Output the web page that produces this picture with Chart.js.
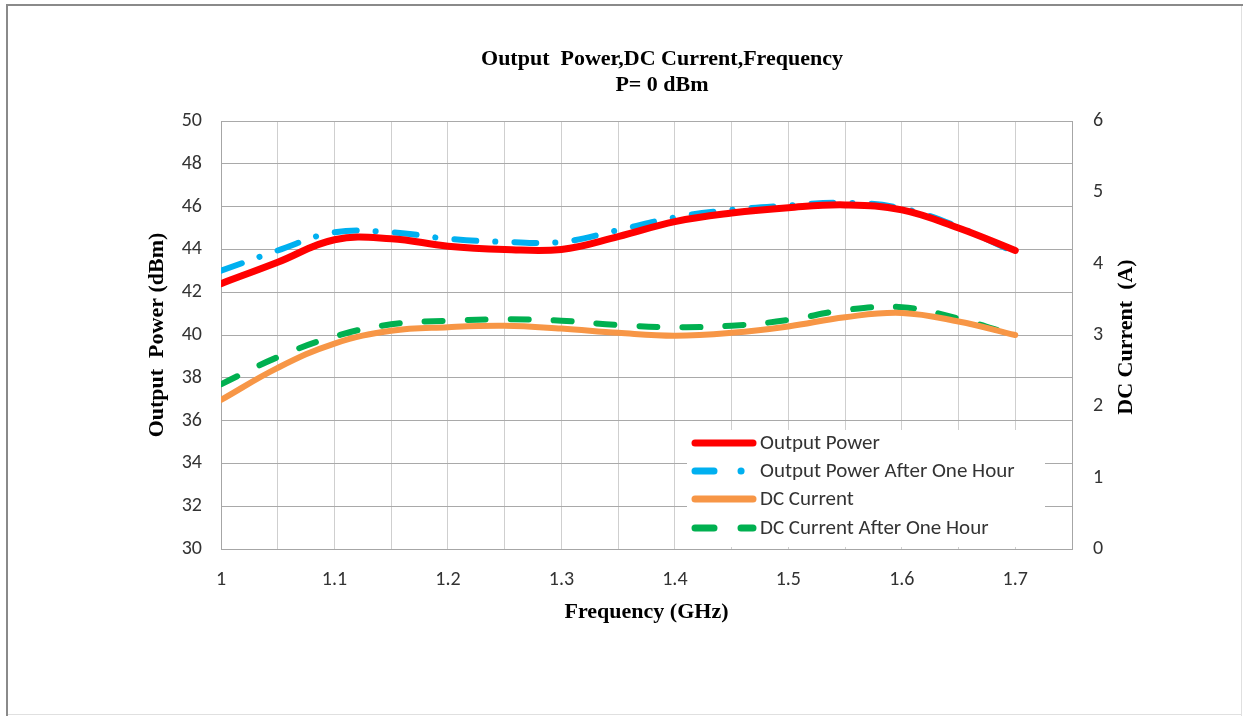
<!DOCTYPE html>
<html>
<head>
<meta charset="utf-8">
<script src="https://cdn.jsdelivr.net/npm/chart.js@4"></script>
<style>
  html, body { margin: 0; padding: 0; background: #fff; overflow: hidden; }
  #wrap { position: relative; width: 1243px; height: 716px; }
</style>
</head>
<body>
<div id="wrap"><canvas id="powerChart" width="1243" height="716"></canvas></div>
<script>
// Daten
const frequency = [1.00, 1.05, 1.10, 1.15, 1.20, 1.25, 1.30, 1.35, 1.40, 1.45, 1.50, 1.55, 1.60, 1.65, 1.70];
const outputPower = [42.4, 43.4, 44.45, 44.5, 44.15, 44.0, 44.0, 44.6, 45.3, 45.7, 45.95, 46.08, 45.85, 45.0, 43.95];
const outputPowerHour = [43.0, 43.95, 44.8, 44.8, 44.5, 44.35, 44.35, 44.9, 45.5, 45.85, 46.05, 46.18, 45.92, 45.05, 43.85];
const dcCurrent = [2.09, 2.54, 2.88, 3.06, 3.11, 3.13, 3.09, 3.03, 2.99, 3.03, 3.12, 3.25, 3.31, 3.19, 3.0];
const dcCurrentHour = [2.31, 2.69, 2.98, 3.15, 3.2, 3.22, 3.2, 3.14, 3.11, 3.13, 3.21, 3.35, 3.39, 3.23, 2.99];

const xTickLabels = ['1', '1.1', '1.2', '1.3', '1.4', '1.5', '1.6', '1.7'];
const seriesNames = ['Output Power', 'Output Power After One Hour', 'DC Current', 'DC Current After One Hour'];
const titleLines = ['Output  Power,DC Current,Frequency', 'P= 0 dBm'];

const tickFont = { family: 'Carlito, Calibri, Lato, sans-serif', size: 20 };
const serifBold = { family: '"Liberation Serif", "Times New Roman", serif', size: 22, weight: 'bold' };

const toPoints = (ys) => frequency.map((f, i) => ({ x: f, y: ys[i] }));

const styles = [
  { color: '#ff0000', width: 7, dash: [] },
  { color: '#00b0f0', width: 6, dash: [22, 19, 0.1, 19] },
  { color: '#f79646', width: 6, dash: [] },
  { color: '#00b050', width: 6, dash: [18, 25] }
];

// Rahmen, Titel, rechte Achsenbeschriftung und Legende selbst zeichnen
const extrasPlugin = {
  id: 'extras',
  beforeDraw(chart) {
    const ctx = chart.ctx;
    ctx.save();
    ctx.fillStyle = '#fff';
    ctx.fillRect(0, 0, chart.width, chart.height);
    ctx.fillStyle = '#8a8a8a';
    ctx.fillRect(6, 4, 2, 712);
    ctx.fillRect(6, 4, 1237, 2);
    ctx.fillStyle = '#e0e0e0';
    ctx.fillRect(1241, 6, 1, 710);
    ctx.fillRect(8, 714, 1233, 1);
    ctx.restore();
  },
  afterDraw(chart) {
    const ctx = chart.ctx;
    ctx.save();
    // Titel
    ctx.fillStyle = '#000';
    ctx.font = 'bold 22px "Liberation Serif", "Times New Roman", serif';
    ctx.textAlign = 'center';
    ctx.textBaseline = 'middle';
    ctx.fillText(titleLines[0], 662, 59);
    ctx.fillText(titleLines[1], 662, 85);

    // rechte Achse Titel
    ctx.translate(1126, 337);
    ctx.rotate(-Math.PI / 2);
    ctx.fillText('DC Current  (A)', 0, 0);
    ctx.restore();

    // Legende
    ctx.save();
    ctx.fillStyle = '#fff';
    ctx.fillRect(687, 430, 358, 117);
    const rows = [443, 471, 499, 528];
    ctx.font = '21px Carlito, Calibri, Lato, sans-serif';
    ctx.textAlign = 'left';
    ctx.textBaseline = 'middle';
    seriesNames.forEach((name, i) => {
      const s = styles[i];
      ctx.strokeStyle = s.color;
      ctx.lineWidth = 7;
      ctx.lineCap = 'round';
      ctx.beginPath();
      if (i === 1) {
        ctx.moveTo(695, rows[i]); ctx.lineTo(714, rows[i]);
        ctx.moveTo(741, rows[i]); ctx.lineTo(741.1, rows[i]);
      } else if (i === 3) {
        ctx.moveTo(695, rows[i]); ctx.lineTo(714, rows[i]);
        ctx.moveTo(741, rows[i]); ctx.lineTo(753, rows[i]);
      } else {
        ctx.moveTo(695, rows[i]); ctx.lineTo(753, rows[i]);
      }
      ctx.stroke();
      ctx.fillStyle = '#333';
      ctx.fillText(name, 760, rows[i] + 1);
    });
    ctx.restore();
  }
};

const datasets = [outputPower, outputPowerHour, dcCurrent, dcCurrentHour].map((vals, i) => ({
  label: seriesNames[i],
  data: toPoints(vals),
  yAxisID: i < 2 ? 'y' : 'y1',
  borderColor: styles[i].color,
  borderWidth: styles[i].width,
  borderDash: styles[i].dash,
  borderCapStyle: 'round',
  borderJoinStyle: 'round',
  tension: 0.4,
  pointRadius: 0,
  fill: false,
  showLine: true
}));

new Chart(document.getElementById('powerChart'), {
  type: 'scatter',
  data: { datasets: datasets },
  options: {
    responsive: false,
    animation: false,
    layout: { padding: { left: 140, right: 100, top: 121, bottom: 87 } },
    plugins: {
      legend: { display: false },
      title: { display: false },
      tooltip: { enabled: false }
    },
    scales: {
      x: {
        type: 'linear',
        min: 1,
        max: 1.75,
        afterBuildTicks(scale) {
          scale.ticks = [];
          for (let k = 0; k <= 15; k++) scale.ticks.push({ value: 1 + k * 0.05 });
        },
        afterFit(scale) { scale.height = 80; },
        grid: { color: '#cfcfcf', drawTicks: false },
        border: { color: '#a6a6a6' },
        ticks: {
          padding: 19,
          color: '#333',
          font: tickFont,
          maxRotation: 0,
          autoSkip: false,
          callback: (v, idx) => idx % 2 === 0 ? (xTickLabels[idx / 2] || '') : ''
        },
        title: {
          display: true,
          text: 'Frequency (GHz)',
          color: '#000',
          font: serifBold,
          padding: { top: 4, bottom: 3 }
        }
      },
      y: {
        position: 'left',
        min: 30,
        max: 50,
        afterFit(scale) { scale.width = 81; },
        grid: { color: '#a9a9a9', drawTicks: false },
        border: { color: '#a6a6a6' },
        ticks: { stepSize: 2, padding: 19, color: '#333', font: tickFont },
        title: {
          display: true,
          text: 'Output  Power (dBm)',
          color: '#000',
          font: serifBold,
          padding: { top: 4, bottom: 0 }
        }
      },
      y1: {
        position: 'right',
        min: 0,
        max: 6,
        afterFit(scale) { scale.width = 71; },
        grid: { drawOnChartArea: false, drawTicks: false },
        border: { color: '#a6a6a6' },
        ticks: { stepSize: 1, padding: 21, color: '#333', font: tickFont }
      }
    }
  },
  plugins: [extrasPlugin]
});
</script>
</body>
</html>
